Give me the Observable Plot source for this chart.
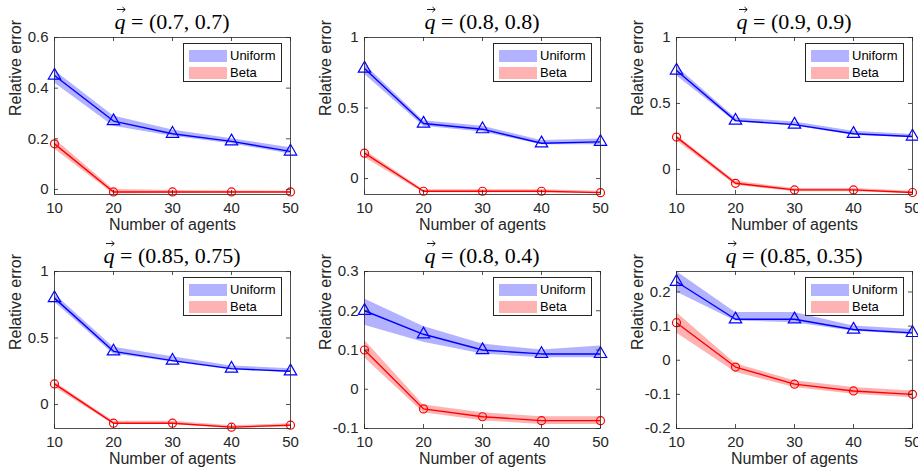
<!DOCTYPE html>
<html><head><meta charset="utf-8">
<script src="https://cdn.jsdelivr.net/npm/d3@7"></script>
<script src="https://cdn.jsdelivr.net/npm/@observablehq/plot@0.6"></script>
<style>
body{margin:0;background:#fff;}
#wrap{position:relative;width:918px;height:470px;overflow:hidden;background:#fff;font-family:"Liberation Sans",Arial,sans-serif;}
.panel{position:absolute;}
.panel svg{display:block;background:#fff;max-width:none !important;}
.title{position:absolute;font-family:"Liberation Serif",serif;font-size:22px;white-space:nowrap;transform:translateX(-50%);color:#000;line-height:1;}
.vec{position:relative;display:inline-block;font-style:italic;}
.vec svg{position:absolute;left:2px;top:-5px;}
.legend{position:absolute;width:99px;height:39px;box-sizing:border-box;border:1px solid #262626;background:#fff;font-size:13px;color:#000;}
.legend .sw{position:absolute;left:5px;width:38px;height:12px;}
.legend .lb{position:absolute;left:46px;line-height:13px;}
</style>
</head><body>
<div id="wrap"></div>
<script>
const agents = [10, 20, 30, 40, 50];
const titles = ["(0.7, 0.7)", "(0.8, 0.8)", "(0.9, 0.9)", "(0.85, 0.75)", "(0.8, 0.4)", "(0.85, 0.35)"];
const seriesNames = ["Uniform", "Beta"];

const uniformMean = [
  [0.45, 0.27, 0.22, 0.19, 0.15],
  [0.78, 0.39, 0.35, 0.25, 0.26],
  [0.75, 0.37, 0.34, 0.27, 0.25],
  [0.80, 0.40, 0.33, 0.27, 0.25],
  [0.20, 0.14, 0.10, 0.09, 0.09],
  [0.23, 0.12, 0.12, 0.09, 0.08]
];
const uniformLo = [
  [0.42, 0.25, 0.21, 0.18, 0.14],
  [0.74, 0.37, 0.33, 0.24, 0.24],
  [0.71, 0.36, 0.33, 0.26, 0.24],
  [0.77, 0.38, 0.32, 0.26, 0.24],
  [0.163, 0.12, 0.09, 0.08, 0.08],
  [0.20, 0.115, 0.11, 0.085, 0.075]
];
const uniformHi = [
  [0.47, 0.29, 0.235, 0.20, 0.165],
  [0.81, 0.41, 0.37, 0.27, 0.28],
  [0.78, 0.39, 0.36, 0.29, 0.265],
  [0.83, 0.43, 0.36, 0.29, 0.27],
  [0.23, 0.16, 0.115, 0.10, 0.11],
  [0.26, 0.14, 0.14, 0.10, 0.09]
];
const betaMean = [
  [0.18, -0.01, -0.01, -0.01, -0.01],
  [0.18, -0.09, -0.09, -0.09, -0.10],
  [0.245, -0.105, -0.155, -0.155, -0.175],
  [0.155, -0.14, -0.14, -0.17, -0.155],
  [0.10, -0.05, -0.07, -0.08, -0.08],
  [0.11, -0.02, -0.07, -0.09, -0.10]
];
const betaLo = [
  [0.16, -0.018, -0.016, -0.014, -0.013],
  [0.15, -0.10, -0.10, -0.10, -0.105],
  [0.22, -0.12, -0.17, -0.17, -0.185],
  [0.13, -0.15, -0.15, -0.18, -0.165],
  [0.08, -0.06, -0.08, -0.09, -0.09],
  [0.08, -0.035, -0.08, -0.10, -0.11]
];
const betaHi = [
  [0.20, 0.0, -0.004, -0.006, -0.007],
  [0.20, -0.08, -0.08, -0.08, -0.09],
  [0.26, -0.09, -0.145, -0.145, -0.165],
  [0.17, -0.125, -0.125, -0.16, -0.145],
  [0.125, -0.04, -0.06, -0.07, -0.07],
  [0.14, -0.01, -0.06, -0.08, -0.09]
];
const yDomains = [[-0.02, 0.6], [-0.113, 1], [-0.19, 1], [-0.18, 1], [-0.1, 0.3], [-0.2, 0.26]];
const yTicks = [[0, 0.2, 0.4, 0.6], [0, 0.5, 1], [0, 0.5, 1], [0, 0.5, 1], [-0.1, 0, 0.1, 0.2, 0.3], [-0.2, -0.1, 0, 0.1, 0.2]];

// layout
const colLeft = [0, 310, 622];
const rowTop = [0, 234];
const ML = 54, MR = 12, MT = 37, MB = 41, IW = 236, IH = 157;
const BLUE = "#0000ff", RED = "#ff0000", AX = "#262626";
const wrap = document.getElementById("wrap");
const arrowSvg = '<svg width="10" height="7" viewBox="0 0 10 7"><path d="M0.5,3.5H8.5M6,1L8.8,3.5L6,6" fill="none" stroke="#000" stroke-width="0.9"/></svg>';

for (let i = 0; i < 6; i++) {
  const col = i % 3, row = Math.floor(i / 3);
  const data = agents.map((n, j) => ({
    n, um: uniformMean[i][j], ul: uniformLo[i][j], uh: uniformHi[i][j],
    bm: betaMean[i][j], bl: betaLo[i][j], bh: betaHi[i][j]
  }));
  const W = ML + IW + MR;
  const p = Plot.plot({
    width: W, height: MT + IH + MB,
    marginLeft: ML, marginRight: MR, marginTop: MT, marginBottom: MB,
    style: {fontFamily: "'Liberation Sans', Arial, sans-serif", fontSize: "15px", background: "#fff", color: "#262626", maxWidth: "none"},
    x: {domain: [10, 50], label: null},
    y: {domain: yDomains[i], label: null},
    marks: [
      Plot.areaY(data, {x: "n", y1: "ul", y2: "uh", fill: BLUE, fillOpacity: 0.3, clip: true}),
      Plot.line(data, {x: "n", y: "um", stroke: BLUE, strokeWidth: 1.4, clip: true}),
      Plot.dot(data, {x: "n", y: "um", symbol: "triangle", r: 4.6, stroke: BLUE, fill: "none", strokeWidth: 1.2}),
      Plot.areaY(data, {x: "n", y1: "bl", y2: "bh", fill: RED, fillOpacity: 0.3, clip: true}),
      Plot.line(data, {x: "n", y: "bm", stroke: RED, strokeWidth: 1.4, clip: true}),
      Plot.dot(data, {x: "n", y: "bm", symbol: "circle", r: 4, stroke: RED, fill: "none", strokeWidth: 1.2}),
      Plot.frame({stroke: AX, strokeWidth: 0.8}),
      Plot.tickY(yTicks[i], {y: d => d, insetRight: IW - 4, stroke: AX, strokeWidth: 0.8}),
      Plot.tickY(yTicks[i], {y: d => d, insetLeft: IW - 4, stroke: AX, strokeWidth: 0.8}),
      Plot.tickX(agents, {x: d => d, insetTop: IH - 4, stroke: AX, strokeWidth: 0.8}),
      Plot.tickX(agents, {x: d => d, insetBottom: IH - 4, stroke: AX, strokeWidth: 0.8}),
      Plot.axisX({ticks: agents, tickSize: 0, tickPadding: 8, tickFormat: d => String(d), fontSize: 15, fill: AX, label: null}),
      Plot.axisY({ticks: yTicks[i], tickSize: 0, tickPadding: 6, tickFormat: d => String(d), fontSize: 15, fill: AX, label: null}),
      Plot.text(["Relative error"], {text: d => d, frameAnchor: "left", dx: -39, rotate: -90, fontSize: 16, fill: AX}),
      Plot.text(["Number of agents"], {text: d => d, frameAnchor: "bottom", dy: 35, fontSize: 16, fill: AX})
    ]
  });
  const div = document.createElement("div");
  div.className = "panel";
  div.style.left = colLeft[col] + "px";
  div.style.top = rowTop[row] + "px";
  div.style.width = W + "px";
  div.appendChild(p);
  wrap.appendChild(div);

  const axL = colLeft[col] + ML, axT = rowTop[row] + MT;
  const t = document.createElement("div");
  t.className = "title";
  t.style.left = (axL + IW / 2) + "px";
  t.style.top = (rowTop[row] + 11) + "px";
  t.innerHTML = '<span class="vec">q' + arrowSvg + '</span> = ' + titles[i];
  wrap.appendChild(t);

  const lg = document.createElement("div");
  lg.className = "legend";
  lg.style.left = (axL + IW - 8 - 99) + "px";
  lg.style.top = (axT + 6) + "px";
  lg.innerHTML =
    '<div class="sw" style="top:6px;background:rgba(0,0,255,0.3)"></div><div class="lb" style="top:5px">' + seriesNames[0] + '</div>' +
    '<div class="sw" style="top:23px;background:rgba(255,0,0,0.3)"></div><div class="lb" style="top:22px">' + seriesNames[1] + '</div>';
  wrap.appendChild(lg);
}
</script>
</body></html>
